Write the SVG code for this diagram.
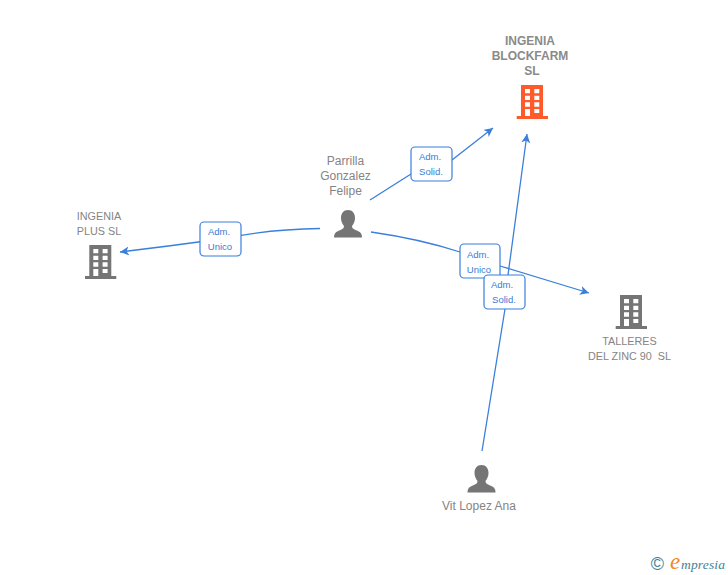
<svg xmlns="http://www.w3.org/2000/svg" width="728" height="575" viewBox="0 0 728 575">
<style>
.t{font-family:"Liberation Sans",Arial,sans-serif;font-size:12px;fill:#848484;text-anchor:middle}
.s{font-size:10.800px}
.b{font-weight:bold;fill:#8a8a8a}
.l{font-family:"Liberation Sans",Arial,sans-serif;font-size:9.500px;fill:#3a7bd5;text-anchor:middle}
.box{fill:#fff;stroke:#3a7fdc;stroke-width:1.2}
.c{fill:none;stroke:#3a7fdc;stroke-width:1.3}
.g{fill:#757575}
.o{fill:#ff5a2b}
</style>
<defs>
<marker id="a" markerUnits="userSpaceOnUse" markerWidth="12" markerHeight="12" refX="9" refY="4.500" orient="auto"><path d="M0 0L9 4.500L0 9L2.500 4.500Z" fill="#3a7fdc"/></marker>
<path id="bld" fill-rule="evenodd" d="M516.7 116H521V85H543V116H548V119H516.700Z M525 89V93.300H530V89Z M534.300 89V93.300H539.300V89Z M525 95.700V100H530V95.700Z M534.300 95.700V100H539.300V95.700Z M525 102.300V106.700H530V102.300Z M534.300 102.300V106.700H539.300V102.300Z M525 109V116H530V109Z M534.300 109V113H539.300V109Z"/>
<path id="psn" d="M348 210C343.500 210 341 213.500 341 218C341 221.500 342.500 224 344 226C344 228 343 229 340 230.200C336 231.800 334 233 334 237.500H362C362 233 360 231.800 356 230.200C353 229 352 228 352 226C353.500 224 355 221.500 355 218C355 213.500 352.500 210 348 210Z"/>
</defs>
<g id="connectors">
<path class="c" marker-end="url(#a)" d="M320 228.500Q270 229 221 239Q170 246 120 252"/>
<path class="c" marker-end="url(#a)" d="M370 200L411 174M452 160L493 128"/>
<path class="c" marker-end="url(#a)" d="M371 232Q420 239 460 252M500 266L589 293"/>
<path class="c" marker-end="url(#a)" d="M482 451L505 309M508 275L527 134"/>
</g>
<g id="n-blockfarm"><use href="#bld" class="o"/>
<text class="t b" x="530" y="45">INGENIA</text><text class="t b" x="530" y="60">BLOCKFARM</text><text class="t b" x="532" y="75">SL</text></g>
<g id="n-plus"><use href="#bld" class="g" x="-431.700" y="160"/>
<text class="t s" x="99" y="220">INGENIA</text><text class="t s" x="99" y="235">PLUS SL</text></g>
<g id="n-talleres"><use href="#bld" class="g" x="99" y="210"/>
<text class="t s" x="629.500" y="345">TALLERES</text><text class="t s" x="629.500" y="360" xml:space="preserve">DEL ZINC 90  SL</text></g>
<g id="n-parrilla"><use href="#psn" class="g"/>
<text class="t" x="345.500" y="165">Parrilla</text><text class="t" x="345.500" y="180">Gonzalez</text><text class="t" x="345.500" y="195">Felipe</text></g>
<g id="n-vit"><use href="#psn" class="g" x="133.500" y="255"/>
<text class="t" x="479" y="510">Vit Lopez Ana</text></g>
<g id="l1"><rect class="box" x="411" y="147" width="41" height="34" rx="4"/><text class="l" x="430" y="160">Adm.</text><text class="l" x="431" y="175">Solid.</text></g>
<g id="l2"><rect class="box" x="200" y="222" width="41" height="34" rx="4"/><text class="l" x="219" y="235">Adm.</text><text class="l" x="220" y="250">Unico</text></g>
<g id="l3"><rect class="box" x="460" y="244" width="40" height="34" rx="4"/><text class="l" x="478" y="258">Adm.</text><text class="l" x="479" y="273">Unico</text></g>
<g id="l4"><rect class="box" x="484" y="275" width="41" height="34" rx="4"/><text class="l" x="502" y="288">Adm.</text><text class="l" x="504" y="303">Solid.</text></g>
<g id="logo">
<text x="657.500" y="570" font-family="Liberation Sans,sans-serif" font-size="18" fill="#3f8294" text-anchor="middle">©</text>
<text x="670" y="569" font-family="Liberation Serif,serif" font-style="italic" font-size="23" fill="#f08a24">e</text>
<text x="681" y="569" font-family="Liberation Serif,serif" font-style="italic" font-size="13.500" fill="#3f8294" textLength="44">mpresia</text>
</g>
</svg>
